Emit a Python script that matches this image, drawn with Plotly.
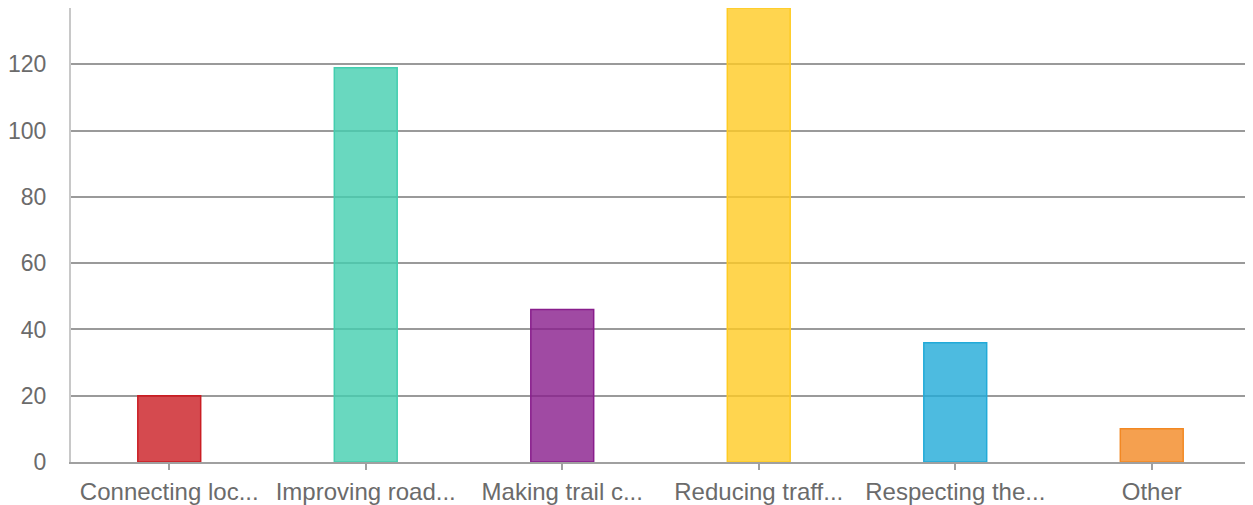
import plotly.graph_objects as go

categories = ["Connecting loc...", "Improving road...", "Making trail c...",
              "Reducing traff...", "Respecting the...", "Other"]
values = [20, 119, 46, 137, 36, 10]
base_colors = [(202, 29, 35), (67, 206, 175), (136, 29, 140),
               (255, 203, 35), (33, 170, 216), (242, 136, 35)]

fills = ["rgba(%d,%d,%d,0.8)" % c for c in base_colors]
edges = ["rgb(%d,%d,%d)" % c for c in base_colors]

fig = go.Figure(go.Bar(
    x=categories,
    y=values,
    marker=dict(color=fills, line=dict(color=edges, width=1.5)),
))

# page body has an 8px margin, so the figure is sized to fit inside it
fig.update_layout(
    width=1245,
    height=497,
    margin=dict(l=63, r=3, t=0, b=43, autoexpand=False),
    plot_bgcolor="white",
    paper_bgcolor="white",
    bargap=0.68,
    showlegend=False,
    font=dict(family="Liberation Sans, Arial", size=23, color="#6b6b6b"),
)
fig.update_xaxes(
    automargin=False,
    showgrid=False,
    showline=True,
    linecolor="#a0a0a0",
    linewidth=2,
    ticks="outside",
    ticklen=6,
    tickcolor="#a0a0a0",
    tickwidth=1.5,
    tickfont=dict(size=24),
    ticklabelstandoff=1,
)
fig.update_yaxes(
    automargin=False,
    range=[0, 137],
    dtick=20,
    showgrid=True,
    gridcolor="#9a9a9a",
    gridwidth=2,
    zeroline=False,
    showline=True,
    linecolor="#c8c8c8",
    linewidth=2,
    ticklabelstandoff=18,
)

fig.write_html("out.html")
